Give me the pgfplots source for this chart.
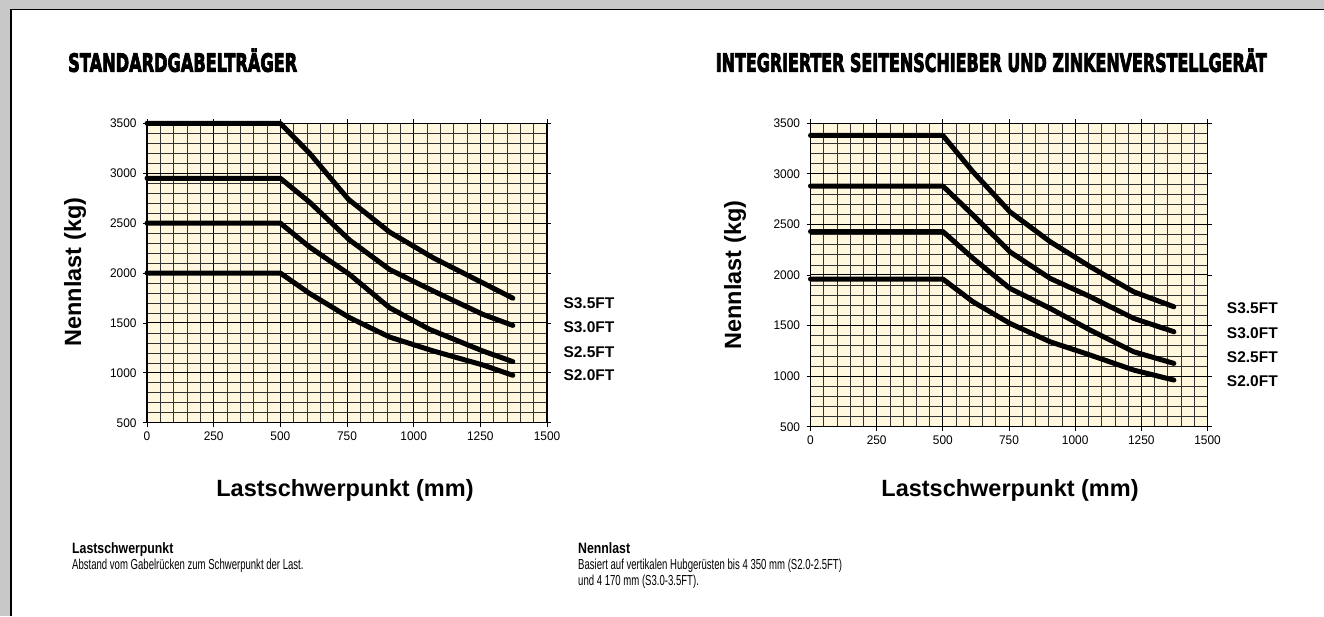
\documentclass[border=0pt]{standalone}
\usepackage{pgfplots}
\pgfplotsset{compat=1.18}
\usepackage{fontspec}
\setmainfont{Liberation Sans}
\newfontfamily\titlefont{DejaVu Sans}[FakeBold=4]
\newfontfamily\tickfont{Liberation Sans}[FakeStretch=0.95]
\newfontfamily\bodyfont{Liberation Sans}[FakeStretch=0.66]
\newfontfamily\headfont{Liberation Sans}[FakeStretch=0.82]
\definecolor{cream}{RGB}{255,247,222}
\definecolor{bggray}{RGB}{200,200,200}

\newsavebox\tbox
\newcommand\fitw[2]{\sbox\tbox{#2}\edef\tscale{\fpeval{#1/\the\wd\tbox}}\scalebox{\tscale}[1]{\usebox\tbox}}

\pgfplotsset{
  chartstyle/.style={
    scale only axis, anchor=south west, clip=false,
    xmin=0, xmax=1500, ymin=500, ymax=3500,
    xtick={0,250,...,1500}, ytick={500,1000,...,3500},
    minor x tick num=4, minor y tick num=4,
    grid=both,
    major grid style={draw=black, line width=1pt},
    minor grid style={draw=black!80, line width=0.65pt},
    axis background/.style={fill=cream},
    axis line style={black, line width=1.3pt},
    tick align=outside, major tick length=4pt, minor tick length=0pt,
    every tick/.style={black, line width=0.8pt},
    tick label style={font=\tickfont\fontsize{12.5}{12.5}\selectfont},
    yticklabel style={xshift=-3pt},
    xticklabel style={yshift=-2pt},
    /pgf/number format/assume math mode=true,
    /pgf/number format/1000 sep={},
  },
  series/.style={black, line width=5pt, line cap=round, line join=round, mark=none},
}

\begin{document}
\begin{tikzpicture}[x=1pt, y=1pt]
\useasboundingbox (0,0) rectangle (1324,616);
\fill[bggray] (0,0) rectangle (1324,616);
\fill[white] (10,0) rectangle (1324,607);
\draw[black, line width=1.5pt] (10.75,0) -- (10.75,606.25) -- (1324,606.25);

% titles
\node[anchor=base west, inner sep=0] at (68,544.3)
  {\fitw{229}{\titlefont\bfseries\fontsize{25}{26}\selectfont STANDARDGABELTRÄGER}};
\node[anchor=base east, inner sep=0] at (1267,544.3)
  {\fitw{551}{\titlefont\bfseries\fontsize{25}{26}\selectfont INTEGRIERTER SEITENSCHIEBER UND ZINKENVERSTELLGERÄT}};

% left chart
\begin{axis}[chartstyle, at={(147pt,193.3pt)}, width=400pt, height=299.3pt]
\addplot[series] coordinates {(0,3500) (500,3500) (610,3200) (755,2740) (910,2410) (1075,2150) (1260,1900) (1372,1748)};
\addplot[series] coordinates {(0,2950) (500,2950) (610,2710) (760,2330) (910,2035) (1075,1818) (1260,1585) (1372,1475)};
\addplot[series] coordinates {(0,2500) (500,2500) (610,2260) (760,1985) (910,1652) (1060,1435) (1260,1218) (1372,1112)};
\addplot[series] coordinates {(0,2000) (500,2000) (610,1795) (760,1552) (910,1358) (1075,1218) (1260,1078) (1372,975)};
\end{axis}

% right chart
\begin{axis}[chartstyle, at={(810.5pt,189.3pt)}, width=397pt, height=303.4pt]
\addplot[series] coordinates {(0,3380) (500,3380) (614,3020) (753,2626) (905,2330) (1057,2082) (1221,1834) (1373,1686)};
\addplot[series] coordinates {(0,2880) (500,2880) (614,2593) (753,2230) (905,1967) (1057,1785) (1221,1571) (1373,1439)};
\addplot[series] coordinates {(0,2430) (500,2430) (614,2165) (753,1868) (905,1670) (1057,1455) (1221,1241) (1373,1126)};
\addplot[series] coordinates {(0,1960) (500,1960) (614,1735) (753,1522) (905,1340) (1057,1208) (1221,1060) (1373,961)};
\end{axis}

% series labels
\begin{scope}[every node/.style={anchor=west, inner sep=0, font=\bfseries\fontsize{15.5}{16}\selectfont}]
\node at (563.3,312.7) {S3.5FT};
\node at (563.3,289.3) {S3.0FT};
\node at (563.3,264.3) {S2.5FT};
\node at (563.3,241.0) {S2.0FT};
\node at (1226.7,307.7) {S3.5FT};
\node at (1226.7,283.3) {S3.0FT};
\node at (1226.7,259.3) {S2.5FT};
\node at (1226.7,235.3) {S2.0FT};
\end{scope}

% axis labels
\begin{scope}[every node/.style={inner sep=0, font=\bfseries\fontsize{23.5}{24}\selectfont}]
\node[rotate=90] at (75,344) {Nennlast (kg)};
\node[rotate=90] at (735,341) {Nennlast (kg)};
\node at (345,126) {Lastschwerpunkt (mm)};
\node at (1010,126) {Lastschwerpunkt (mm)};
\end{scope}

% footnotes
\node[anchor=base west, inner sep=0] at (72,62.5) {\headfont\bfseries\fontsize{15}{16}\selectfont Lastschwerpunkt};
\node[anchor=base west, inner sep=0] at (72,46.5) {\bodyfont\fontsize{14.5}{16}\selectfont Abstand vom Gabelrücken zum Schwerpunkt der Last.};
\node[anchor=base west, inner sep=0] at (578,62.5) {\headfont\bfseries\fontsize{15}{16}\selectfont Nennlast};
\node[anchor=base west, inner sep=0] at (578,46.5) {\bodyfont\fontsize{14.5}{16}\selectfont Basiert auf vertikalen Hubgerüsten bis 4 350 mm (S2.0-2.5FT)};
\node[anchor=base west, inner sep=0] at (578,30.5) {\bodyfont\fontsize{14.5}{16}\selectfont und 4 170 mm (S3.0-3.5FT).};
\end{tikzpicture}
\end{document}
